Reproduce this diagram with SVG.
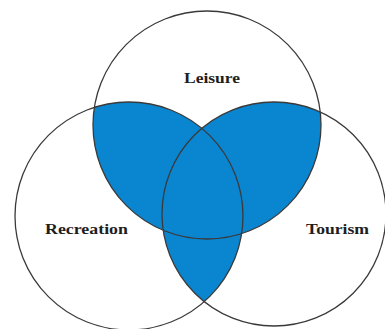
<svg xmlns="http://www.w3.org/2000/svg" width="385" height="329" viewBox="0 0 385 329">
  <style>
    .ring { fill: none; stroke: #3a3a3a; stroke-width: 1.3; }
    .shade { fill: #0a85cf; }
    .lbl { font-family: "Liberation Serif", "Times New Roman", serif; font-weight: bold; font-size: 14px; fill: #1e1e1e; }
  </style>
  <defs>
    <clipPath id="clipTop"><circle cx="207" cy="125" r="114"/></clipPath>
    <clipPath id="clipRight"><circle cx="274" cy="214" r="112"/></clipPath>
  </defs>
  <rect width="385" height="329" fill="#ffffff"/>
  <g id="overlaps">
    <circle class="shade" cx="129" cy="216" r="114" clip-path="url(#clipTop)"/>
    <circle class="shade" cx="274" cy="214" r="112" clip-path="url(#clipTop)"/>
    <circle class="shade" cx="129" cy="216" r="114" clip-path="url(#clipRight)"/>
  </g>
  <g id="leisure">
    <circle class="ring" cx="207" cy="125" r="114"/>
    <text class="lbl" x="184" y="83" textLength="56" lengthAdjust="spacingAndGlyphs">Leisure</text>
  </g>
  <g id="recreation">
    <circle class="ring" cx="129" cy="216" r="114"/>
    <text class="lbl" x="45" y="234" textLength="83" lengthAdjust="spacingAndGlyphs">Recreation</text>
  </g>
  <g id="tourism">
    <circle class="ring" cx="274" cy="214" r="112"/>
    <text class="lbl" x="306" y="234" textLength="63" lengthAdjust="spacingAndGlyphs">Tourism</text>
  </g>
  <g id="connectors"></g>
</svg>
